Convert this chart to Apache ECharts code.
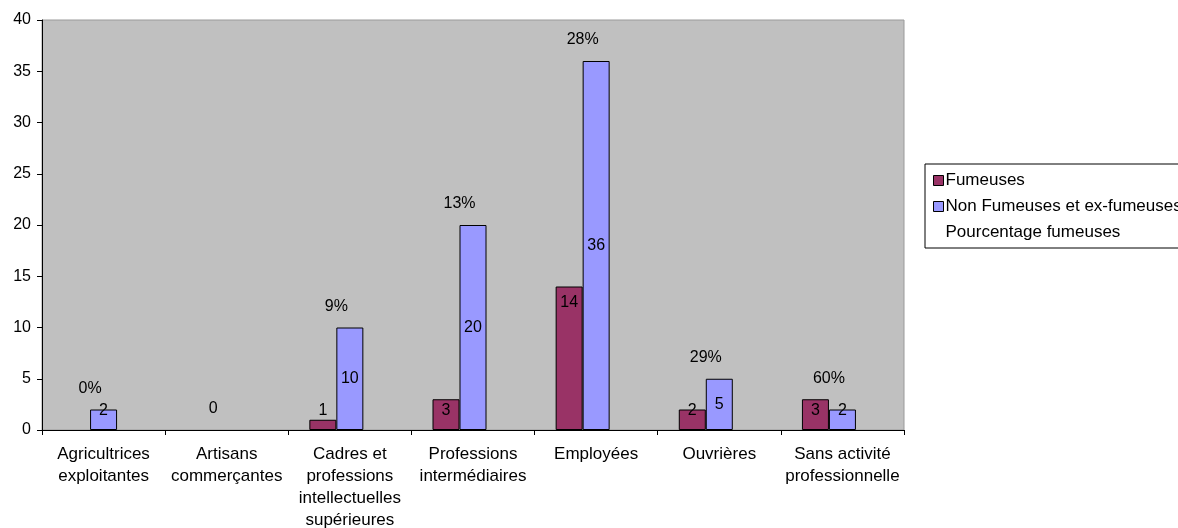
<!DOCTYPE html>
<html>
<head>
<meta charset="utf-8">
<script src="https://cdn.jsdelivr.net/npm/echarts@6/dist/echarts.min.js"></script>
<style>
html,body{margin:0;padding:0;background:#fff;}
#chart{width:1178px;height:528px;}
</style>
</head>
<body>
<div id="chart"></div>
<script>
const categories = ['Agricultrices\nexploitantes', 'Artisans\ncommerçantes', 'Cadres et\nprofessions\nintellectuelles\nsupérieures', 'Professions\nintermédiaires', 'Employées', 'Ouvrières', 'Sans activité\nprofessionnelle'];
const fumeuses = [0, 0, 1, 3, 14, 2, 3];
const nonFumeuses = [2, 0, 10, 20, 36, 5, 2];
const pourcentageLabels = ['0%', '0', '9%', '13%', '28%', '29%', '60%'];
const yTicks = [0, 5, 10, 15, 20, 25, 30, 35, 40];

const FONT = '"Liberation Sans", Arial, sans-serif';
const BAR_W = 27;

function barItems(values, bigPos, bigDist) {
  return values.map(v => ({
    value: v,
    itemStyle: v === 0 ? { borderWidth: 0 } : undefined,
    label: v >= 5
      ? { position: bigPos, distance: bigDist }
      : { position: 'insideBottom', distance: 11 }
  }));
}

const chart = echarts.init(document.getElementById('chart'));
chart.setOption({
  animation: false,
  backgroundColor: '#ffffff',
  textStyle: { fontFamily: FONT },
  grid: {
    left: 42, right: 274, top: 20, bottom: 98,
    containLabel: false, outerBoundsMode: 'none',
    show: true, backgroundColor: '#C0C0C0', borderColor: '#9a9a9a', borderWidth: 1
  },
  legend: {
    left: 925, top: 164,
    orient: 'vertical',
    itemWidth: 10, itemHeight: 10, itemGap: 9,
    padding: [8, 10, 7, 8],
    borderColor: '#000', borderWidth: 1,
    backgroundColor: '#fff',
    textStyle: { fontSize: 17, color: '#000', fontFamily: FONT, padding: [0, 0, 0, -3] },
    data: [
      { name: 'Fumeuses', icon: 'rect', itemStyle: { borderColor: '#000', borderWidth: 1 } },
      { name: 'Non Fumeuses et ex-fumeuses', icon: 'rect', itemStyle: { borderColor: '#000', borderWidth: 1 } },
      { name: 'Pourcentage fumeuses', icon: 'none' }
    ]
  },
  xAxis: {
    type: 'category',
    data: categories,
    axisLine: { lineStyle: { color: '#000', width: 1 } },
    axisTick: { show: true, length: 5, interval: 0, lineStyle: { color: '#000' } },
    axisLabel: { interval: 0, fontSize: 17, color: '#000', lineHeight: 22, margin: 13, fontFamily: FONT }
  },
  yAxis: {
    type: 'value',
    min: yTicks[0], max: yTicks[yTicks.length - 1], interval: yTicks[1] - yTicks[0],
    splitLine: { show: false },
    axisLine: { show: true, lineStyle: { color: '#000', width: 1 } },
    axisTick: { show: true, length: 5, lineStyle: { color: '#000' } },
    axisLabel: { fontSize: 16, color: '#000', margin: 11, fontFamily: FONT }
  },
  series: [
    {
      name: 'Fumeuses', type: 'bar', barWidth: BAR_W, barGap: '0%',
      data: barItems(fumeuses, 'insideTop', 8),
      itemStyle: { color: '#993366', borderColor: '#000', borderWidth: 1 },
      label: {
        show: true, color: '#000', fontSize: 16, fontFamily: FONT,
        formatter: p => (p.value === 0 ? '' : String(p.value))
      }
    },
    {
      name: 'Non Fumeuses et ex-fumeuses', type: 'bar', barWidth: BAR_W, barGap: '0%',
      data: barItems(nonFumeuses, 'inside', 0),
      itemStyle: { color: '#9999FF', borderColor: '#000', borderWidth: 1 },
      label: {
        show: true, color: '#000', fontSize: 16, fontFamily: FONT,
        formatter: p => (p.value === 0 ? '' : String(p.value))
      }
    },
    {
      name: 'Pourcentage fumeuses', type: 'bar', barWidth: BAR_W, barGap: '0%',
      data: fumeuses.map((f, i) => Math.max(f, nonFumeuses[i])),
      itemStyle: { color: 'rgba(0,0,0,0)', borderWidth: 0 },
      label: {
        show: true, position: 'top', distance: 13, offset: [-1.5 * BAR_W, 0],
        color: '#000', fontSize: 16, fontFamily: FONT,
        formatter: p => pourcentageLabels[p.dataIndex]
      }
    }
  ]
});
</script>
</body>
</html>
